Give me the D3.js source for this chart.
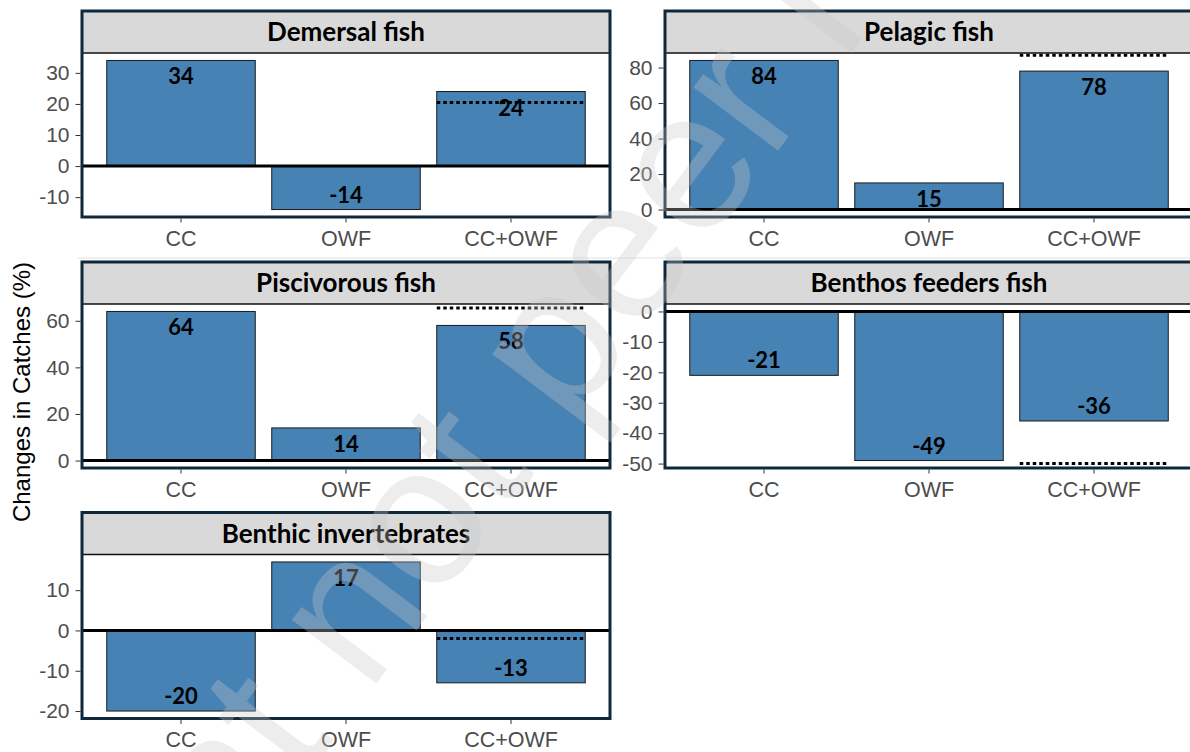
<!DOCTYPE html>
<html>
<head>
<meta charset="utf-8">
<script src="https://cdn.jsdelivr.net/npm/d3@7/dist/d3.min.js"></script>
<style>
  body { margin: 0; background: #fff; }
  svg { display: block; }
</style>
</head>
<body>
<svg id="chart" width="1190" height="752"></svg>
<script>
var groups = ['Demersal fish', 'Pelagic fish', 'Piscivorous fish', 'Benthos feeders fish', 'Benthic invertebrates']
  , scenarios = ['CC', 'OWF', 'CC+OWF']

// change in catches (%) per scenario, one array per group
var demersal = [34, -14, 24]
  , pelagic = [84, 15, 78]
  , piscivorous = [64, 14, 58]
  , benthosFeeders = [-21, -49, -36]
  , benthicInvert = [-20, 17, -13]
  , series = [demersal, pelagic, piscivorous, benthosFeeders, benthicInvert]

// dotted reference line drawn over the CC+OWF bar
var combinedRef = [20.5, 87, 65.5, -50, -2]

var demersalTicks = [-10, 0, 10, 20, 30]
  , pelagicTicks = [0, 20, 40, 60, 80]
  , piscivorousTicks = [0, 20, 40, 60]
  , benthosTicks = [-50, -40, -30, -20, -10, 0]
  , benthicTicks = [-20, -10, 0, 10]
  , tickSets = [demersalTicks, pelagicTicks, piscivorousTicks, benthosTicks, benthicTicks]

var svg = d3.select('svg#chart')
  , panelW = 528
  , stripH = 42
  , plotH = 164
  , colX = [82, 665]
  , rowY = [11, 262, 512.5]
  , tickFont = '"Liberation Sans", Arial, sans-serif'
  , labelFont = 'Lato, "Open Sans", sans-serif'

// faint page line
svg.append('line')
  .attr('x1', 78).attr('x2', 1190).attr('y1', 258).attr('y2', 258)
  .attr('stroke', '#e2e2e2').attr('stroke-width', 1)

groups.forEach(function(name, i) {
  var gx = colX[i % 2]
    , gy = rowY[Math.floor(i / 2)]
    , values = series[i]
    , lo = Math.min(0, d3.min(values))
    , hi = Math.max(0, d3.max(values))
    , pad = (hi - lo) * 0.05

  var x = d3.scaleBand().domain(scenarios).range([0, panelW])
    .paddingInner(0.1).paddingOuter(0.15)
  var y = d3.scaleLinear().domain([lo - pad, hi + pad]).range([plotH, 0])
  var bw = x.bandwidth()

  var g = svg.append('g').attr('transform', 'translate(' + gx + ',' + (gy + stripH) + ')')

  g.append('rect').attr('width', panelW).attr('height', plotH).attr('fill', '#fff')

  g.selectAll('rect.bar').data(values)
    .enter().append('rect').attr('class', 'bar')
    .attr('x', function(d, j) { return x(scenarios[j]) })
    .attr('y', function(d) { return y(Math.max(0, d)) })
    .attr('width', bw)
    .attr('height', function(d) { return Math.abs(y(d) - y(0)) })
    .attr('fill', '#4682b4')
    .attr('stroke', '#1a1a1a')
    .attr('stroke-width', 1)

  g.append('line')
    .attr('x1', 0).attr('x2', panelW)
    .attr('y1', y(0)).attr('y2', y(0))
    .attr('stroke', '#000').attr('stroke-width', 3)

  g.append('line')
    .attr('x1', x('CC+OWF')).attr('x2', x('CC+OWF') + bw)
    .attr('y1', y(combinedRef[i])).attr('y2', y(combinedRef[i]))
    .attr('stroke', '#000').attr('stroke-width', 3)
    .attr('stroke-dasharray', '3.5,3')

  g.selectAll('text.val').data(values)
    .enter().append('text').attr('class', 'val')
    .attr('x', function(d, j) { return x(scenarios[j]) + bw / 2 })
    .attr('y', function(d) { return d >= 0 ? y(d) + 24 : y(d) - 7 })
    .attr('text-anchor', 'middle')
    .style('font-family', labelFont)
    .style('font-weight', 700)
    .style('font-size', '22px')
    .attr('fill', '#000')
    .text(function(d) { return String(Math.round(d)) })

  // strip
  svg.append('rect')
    .attr('x', gx).attr('y', gy).attr('width', panelW).attr('height', stripH)
    .attr('fill', '#d9d9d9')
  svg.append('line')
    .attr('x1', gx).attr('x2', gx + panelW)
    .attr('y1', gy + stripH).attr('y2', gy + stripH)
    .attr('stroke', '#111').attr('stroke-width', 1.4)
  svg.append('text')
    .attr('x', gx + panelW / 2).attr('y', gy + stripH / 2 + 9)
    .attr('text-anchor', 'middle')
    .style('font-family', labelFont)
    .style('font-weight', 700)
    .style('font-size', '26px')
    .attr('fill', '#000')
    .text(name)

  svg.append('rect')
    .attr('x', gx).attr('y', gy).attr('width', panelW).attr('height', stripH + plotH)
    .attr('fill', 'none')
    .attr('stroke', '#10293a').attr('stroke-width', 3)

  var yAxis = g.append('g').attr('transform', 'translate(-1.5,0)')
    .call(d3.axisLeft(y).tickValues(tickSets[i]).tickSize(5).tickPadding(6)
      .tickFormat(function(d) { return String(d) }))
  var xAxis = g.append('g').attr('transform', 'translate(0,' + (plotH + 1.5) + ')')
    .call(d3.axisBottom(x).tickSize(4).tickPadding(8))

  ;[yAxis, xAxis].forEach(function(ax) {
    ax.select('.domain').remove()
    ax.selectAll('.tick line').attr('stroke', '#333')
    ax.selectAll('.tick text')
      .attr('fill', '#4d4d4d')
      .style('font-family', tickFont)
  })
  yAxis.selectAll('.tick text').style('font-size', '21px')
  xAxis.selectAll('.tick text').style('font-size', '21.5px')
})

svg.append('text')
  .attr('transform', 'translate(30,392) rotate(-90)')
  .attr('text-anchor', 'middle')
  .style('font-family', tickFont)
  .style('font-size', '24px')
  .attr('fill', '#000')
  .text('Changes in Catches (%)')

// diagonal preprint watermark
var wm = svg.append('g').attr('transform', 'translate(270,725) rotate(-53)')
var wmText = wm.append('text')
  .style('font-family', tickFont)
  .style('font-size', '200px')
  .attr('fill', '#c8c8c8')
  .attr('fill-opacity', 0.32)
  .text('Preprint not peer reviewed')
var lead = wmText.node().getSubStringLength(0, 7)
  , tW = wmText.node().getSubStringLength(7, 1)
wmText.attr('x', -(lead + tW / 2)).attr('y', 60)
</script>
</body>
</html>
